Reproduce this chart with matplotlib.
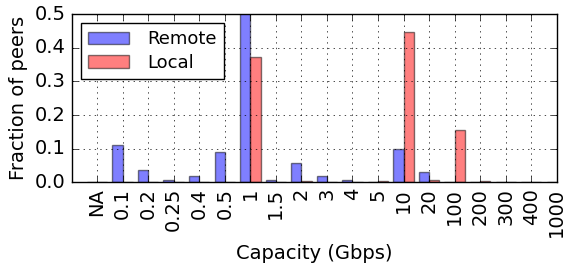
import matplotlib
matplotlib.use("Agg")
import matplotlib.pyplot as plt
import numpy as np

plt.style.use("classic")

categories = ["NA", "0.1", "0.2", "0.25", "0.4", "0.5", "1", "1.5", "2", "3",
              "4", "5", "10", "20", "100", "200", "300", "400", "1000"]
remote = [0.0, 0.11, 0.038, 0.008, 0.019, 0.09, 0.52, 0.007, 0.059, 0.02,
          0.008, 0.0, 0.1, 0.03, 0.0, 0.0, 0.0, 0.0, 0.0]
local = [0.0, 0.0, 0.0, 0.0, 0.0, 0.0, 0.374, 0.0, 0.003, 0.0,
         0.0, 0.003, 0.446, 0.008, 0.157, 0.003, 0.0, 0.0, 0.0]

x = np.arange(len(categories))
w = 0.4

fig = plt.figure(figsize=(5.63, 2.66), dpi=100, facecolor="white")
ax = fig.add_axes([0.127, 0.314, 0.862, 0.633])
ax.bar(x - w, remote, w, color="b", alpha=0.5, label="Remote", align="edge")
ax.bar(x, local, w, color="r", alpha=0.5, label="Local", align="edge")

ax.set_xlim(-1, 18)
ax.set_ylim(0, 0.5)
ax.set_xticks(x)
ax.set_xticklabels(categories, rotation=90, fontsize=14)
ax.set_yticks([0.0, 0.1, 0.2, 0.3, 0.4, 0.5])
ax.tick_params(axis="y", labelsize=14)
ax.grid(True)
ax.set_xlabel("Capacity (Gbps)", fontsize=14)
ax.set_ylabel("Fraction of peers", fontsize=14)
ax.legend(loc="upper left", fontsize=13, borderaxespad=0.5,
          labelspacing=0.3, handlelength=2.3, handletextpad=1.0)

fig.savefig("out.png", dpi=100, facecolor="white")
